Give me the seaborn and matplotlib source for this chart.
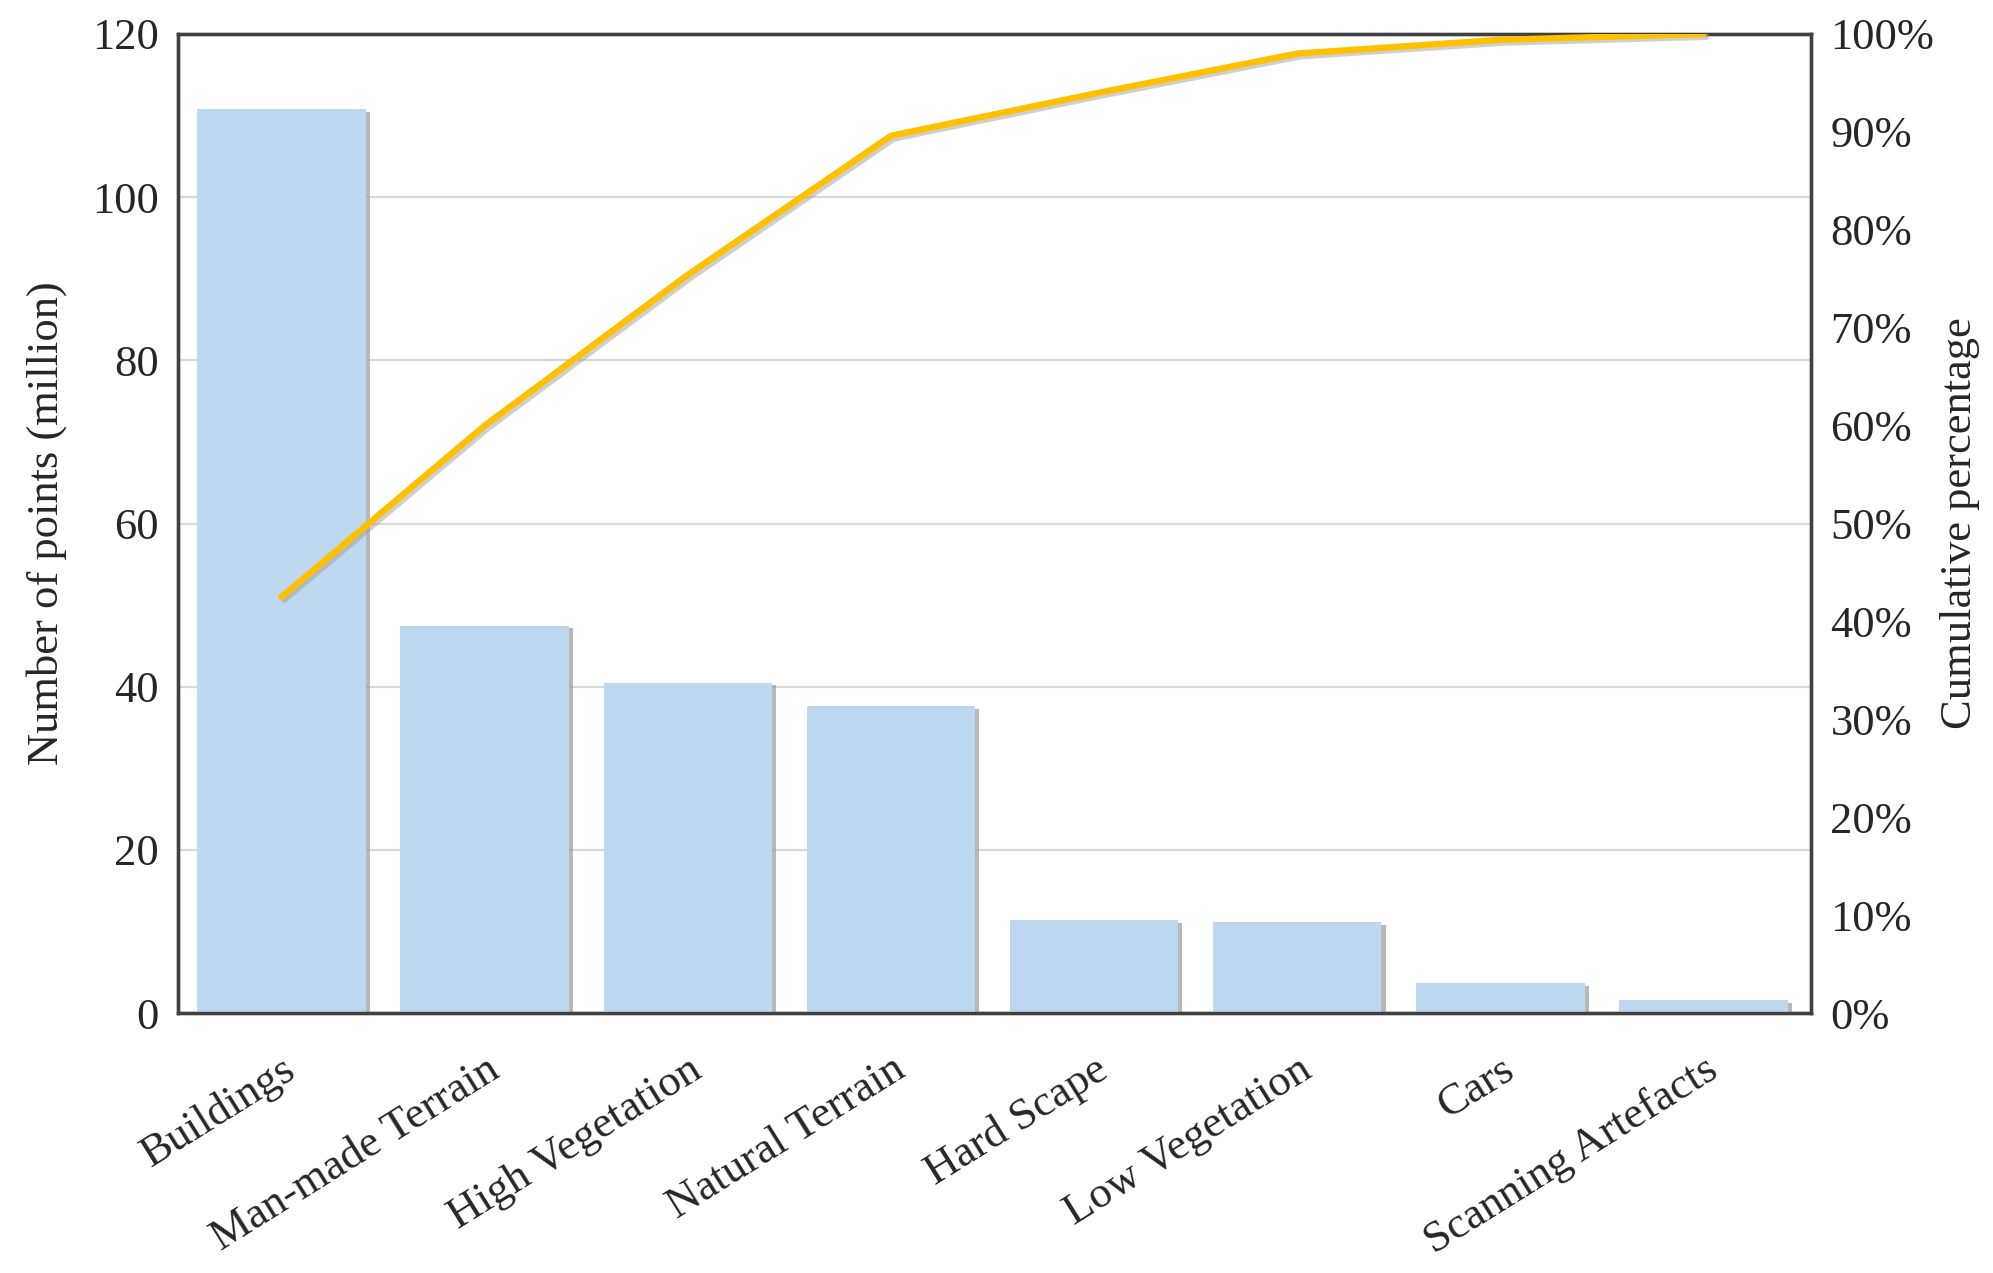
"""Pareto chart of point counts per class."""
import matplotlib
matplotlib.use("Agg")
import matplotlib.pyplot as plt
import matplotlib.patheffects as pe
import pandas as pd
import seaborn as sns
from matplotlib.ticker import FuncFormatter, MultipleLocator

categories = [
    "Buildings",
    "Man-made Terrain",
    "High Vegetation",
    "Natural Terrain",
    "Hard Scape",
    "Low Vegetation",
    "Cars",
    "Scanning Artefacts",
]
points_million = [110.8, 47.5, 40.5, 37.6, 11.4, 11.1, 3.7, 1.6]
cumulative_pct = [42.5, 60.0, 75.4, 89.6, 93.9, 98.0, 99.4, 100.0]

df = pd.DataFrame(
    {"category": categories, "points": points_million, "cum": cumulative_pct}
)

sns.set_theme(style="white")
plt.rcParams["font.family"] = ["Liberation Serif", "DejaVu Serif"]

fig = plt.figure(figsize=(19.93, 12.73), dpi=100)
ax = fig.add_axes([0.0893, 0.2042, 0.8194, 0.7691])

sns.barplot(
    data=df, x="category", y="points", color="#BDD7EE", saturation=1,
    width=0.83, ax=ax, zorder=3,
)
shadow = [pe.SimplePatchShadow(offset=(3, -2), shadow_rgbFace="#9a9a9a", alpha=0.7), pe.Normal()]
for bar in ax.patches:
    bar.set_path_effects(shadow)
    bar.set_edgecolor("none")

fs = 32
ax.set_ylim(0, 120)
ax.yaxis.set_major_locator(MultipleLocator(20))
ax.grid(axis="y", color="#d9d9d9", linewidth=1.6, zorder=0)
ax.set_axisbelow(True)
ax.set_xlabel("")
ax.set_ylabel("Number of points (million)", fontsize=fs, labelpad=18)
ax.tick_params(axis="y", labelsize=fs, length=0, pad=14)
ax.tick_params(axis="x", labelsize=fs, length=0, pad=26)
for lab in ax.get_xticklabels():
    lab.set_rotation(32)
    lab.set_ha("right")
    lab.set_rotation_mode("anchor")

ax2 = ax.twinx()
sns.lineplot(
    x=df["category"], y=df["cum"], ax=ax2, color="#FFC000", linewidth=4.6,
    sort=False, zorder=5,
)
ax2.lines[0].set_path_effects(
    [pe.SimpleLineShadow(offset=(2, -2), shadow_color="#a0a0a0", alpha=0.5), pe.Normal()]
)
ax2.set_ylim(0, 100)
ax2.yaxis.set_major_locator(MultipleLocator(10))
ax2.yaxis.set_major_formatter(FuncFormatter(lambda v, _: f"{v:.0f}%"))
ax2.set_ylabel("Cumulative percentage", fontsize=fs, labelpad=4)
ax2.tick_params(axis="y", labelsize=fs, length=0, pad=14)
ax2.set_xlabel("")
ax2.grid(False)

ax.set_xlim(-0.51, 7.53)

for a in (ax, ax2):
    for side in ("left", "right", "top", "bottom"):
        a.spines[side].set_visible(True)
        a.spines[side].set_color("#404040")
        a.spines[side].set_linewidth(2.4)

fig.savefig("out.png", dpi=100)
